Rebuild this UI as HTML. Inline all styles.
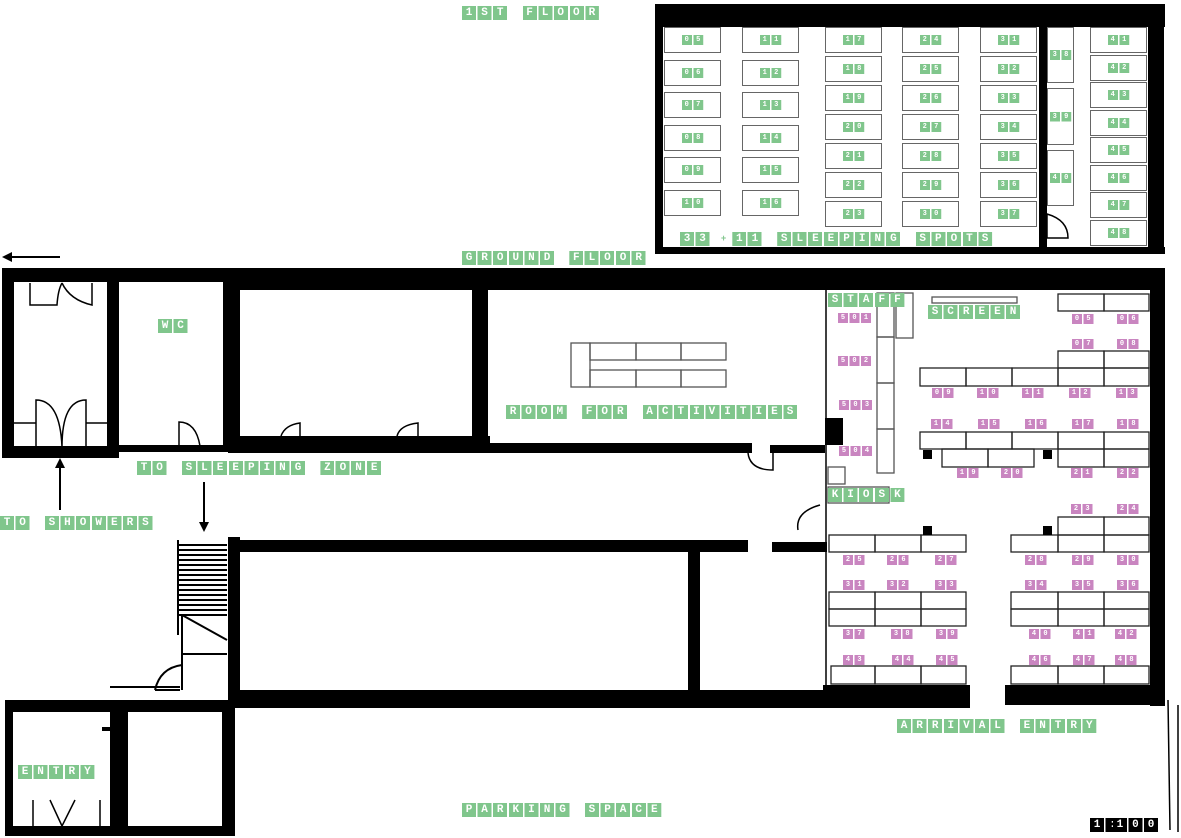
<!DOCTYPE html>
<html><head><meta charset="utf-8">
<style>
html,body{margin:0;padding:0;background:#fff}
#c{position:relative;width:1181px;height:838px;overflow:hidden;background:#fff}
svg{position:absolute;left:0;top:0}
.L{position:absolute;display:flex;gap:10px;white-space:nowrap}
.L span{font:bold 11px "Liberation Mono",monospace;color:#fff;letter-spacing:9px;padding-left:3.7px;height:14px;line-height:14px;background:repeating-linear-gradient(90deg,#80c68c 0 14px,transparent 14px 15.6px);display:block;clip-path:inset(0 5.3px 0 0)}
.K span{background:repeating-linear-gradient(90deg,#000 0 14px,transparent 14px 15.6px)}
.P,.G{position:absolute;font:bold 7px "Liberation Mono",monospace;color:#fff;letter-spacing:7.3px;padding-left:2.9px;height:10px;line-height:10px;white-space:nowrap;clip-path:inset(0 4.4px 0 0)}
.P{background:repeating-linear-gradient(90deg,#c985c0 0 10px,transparent 10px 11.5px)}
.G{background:repeating-linear-gradient(90deg,#80c68c 0 10px,transparent 10px 11.5px)}
.b{position:absolute;border:1.5px solid #666;box-sizing:border-box;display:flex;align-items:center;justify-content:center}
.b .G{position:static;margin-right:-4.4px}
</style></head><body><div id="c">
<svg width="1181" height="838" viewBox="0 0 1181 838">
<g fill="#000">
<rect x="655" y="4" width="510" height="23"/>
<rect x="655" y="4" width="8" height="250"/>
<rect x="655" y="247" width="510" height="7"/>
<rect x="1148" y="4" width="16" height="250"/>
<rect x="1039" y="20" width="8" height="232"/>
<rect x="2" y="268" width="1163" height="14"/>
<rect x="225" y="270" width="940" height="20"/>
<rect x="2" y="268" width="12" height="190"/>
<rect x="107" y="268" width="12" height="190"/>
<rect x="2" y="446" width="117" height="12"/>
<rect x="118" y="445" width="110" height="7"/>
<rect x="223" y="282" width="17" height="170"/>
<rect x="228" y="436" width="262" height="17"/>
<rect x="472" y="282" width="16" height="170"/>
<rect x="488" y="443" width="264" height="10"/>
<rect x="770" y="445" width="55" height="8"/>
<rect x="1150" y="268" width="15" height="438"/>
<rect x="825" y="418" width="18" height="27"/>
<rect x="823" y="685" width="147" height="20"/>
<rect x="1005" y="685" width="160" height="20"/>
<rect x="230" y="540" width="518" height="12"/>
<rect x="772" y="542" width="55" height="10"/>
<rect x="688" y="552" width="12" height="140"/>
<rect x="228" y="690" width="742" height="18"/>
<rect x="228" y="537" width="12" height="170"/>
<rect x="5" y="700" width="230" height="12"/>
<rect x="5" y="700" width="8" height="136"/>
<rect x="5" y="826" width="230" height="10"/>
<rect x="110" y="700" width="18" height="136"/>
<rect x="222" y="700" width="13" height="136"/>
<rect x="102" y="727" width="8" height="4"/>
</g>
<g stroke="#000" fill="none" stroke-width="1.5">
<line x1="826" y1="290" x2="826" y2="685"/>
<line x1="1168" y1="700" x2="1170" y2="830"/>
<line x1="1178" y1="705" x2="1178" y2="832"/>
<line x1="10" y1="257" x2="60" y2="257" stroke-width="2"/>
<line x1="60" y1="462" x2="60" y2="510" stroke-width="2"/>
<line x1="204" y1="482" x2="204" y2="528" stroke-width="2"/>
<g stroke-width="2">
<line x1="178" y1="545" x2="227" y2="545"/><line x1="178" y1="550" x2="227" y2="550"/><line x1="178" y1="555" x2="227" y2="555"/><line x1="178" y1="560" x2="227" y2="560"/><line x1="178" y1="565" x2="227" y2="565"/><line x1="178" y1="570" x2="227" y2="570"/><line x1="178" y1="575" x2="227" y2="575"/><line x1="178" y1="580" x2="227" y2="580"/><line x1="178" y1="585" x2="227" y2="585"/><line x1="178" y1="590" x2="227" y2="590"/><line x1="178" y1="595" x2="227" y2="595"/><line x1="178" y1="600" x2="227" y2="600"/><line x1="178" y1="605" x2="227" y2="605"/><line x1="178" y1="610" x2="227" y2="610"/><line x1="178" y1="615" x2="227" y2="615"/>
<line x1="178" y1="540" x2="178" y2="635"/>
<line x1="182" y1="615" x2="182" y2="690"/>
<line x1="182" y1="615" x2="227" y2="640"/>
<line x1="182" y1="654" x2="227" y2="654"/>
<path d="M182 665 Q160 668 155 690"/>
<line x1="110" y1="687" x2="180" y2="687"/>
<line x1="155" y1="690" x2="180" y2="690"/>
</g>
<path d="M30 283 V305 H57 Q58 290 62 283 M92 283 V305 Q70 300 62 283"/>
<path d="M36 447 V400 Q60 400 62 447 M86 447 V400 Q62 400 62 447 M14 423 H36 M86 423 H107"/>
<path d="M179 446 V422 Q196 422 200 446"/>
<path d="M281 436 Q285 425 300 423 V436 M397 436 Q400 425 418 423 V436"/>
<path d="M748 453 Q750 470 773 470 V453"/>
<path d="M798 530 Q795 512 820 505"/>
<path d="M1047 238 V214 Q1068 220 1068 238 Z"/>
<path d="M33 826 V800 M100 826 V800 M50 800 L62 826 L75 800"/>
</g>
<g fill="#000">
<path d="M2 257 L12 252 L12 262 Z"/>
<path d="M60 458 L55 468 L65 468 Z"/>
<path d="M204 532 L199 522 L209 522 Z"/>
</g>
<g fill="none" stroke="#555" stroke-width="1.3">
<rect x="571" y="343" width="19" height="44"/>
<rect x="590" y="343" width="46" height="17"/><rect x="636" y="343" width="45" height="17"/><rect x="681" y="343" width="45" height="17"/>
<rect x="590" y="370" width="46" height="17"/><rect x="636" y="370" width="45" height="17"/><rect x="681" y="370" width="45" height="17"/>
<rect x="877" y="293" width="17" height="44"/><rect x="877" y="337" width="17" height="46"/><rect x="877" y="383" width="17" height="46"/><rect x="877" y="429" width="17" height="44"/>
<rect x="896" y="293" width="17" height="45"/>
<rect x="932" y="297" width="85" height="6"/>
<rect x="828" y="467" width="17" height="17"/>
<rect x="828" y="487" width="61" height="16"/>
</g>
<g fill="none" stroke="#222" stroke-width="1.3">
<rect x="1058" y="294" width="46" height="17"/><rect x="1104" y="294" width="45" height="17"/>
<rect x="1058" y="351" width="46" height="17"/><rect x="1104" y="351" width="45" height="17"/>
<rect x="920" y="368" width="46" height="18"/><rect x="966" y="368" width="46" height="18"/><rect x="1012" y="368" width="46" height="18"/><rect x="1058" y="368" width="46" height="18"/><rect x="1104" y="368" width="45" height="18"/>
<rect x="920" y="432" width="46" height="17"/><rect x="966" y="432" width="46" height="17"/><rect x="1012" y="432" width="46" height="17"/><rect x="1058" y="432" width="46" height="17"/><rect x="1104" y="432" width="45" height="17"/>
<rect x="942" y="449" width="46" height="18"/><rect x="988" y="449" width="46" height="18"/><rect x="1058" y="449" width="46" height="18"/><rect x="1104" y="449" width="45" height="18"/>
<rect x="1058" y="517" width="46" height="18"/><rect x="1104" y="517" width="45" height="18"/>
<rect x="829" y="535" width="46" height="17"/><rect x="875" y="535" width="46" height="17"/><rect x="921" y="535" width="45" height="17"/>
<rect x="1011" y="535" width="47" height="17"/><rect x="1058" y="535" width="46" height="17"/><rect x="1104" y="535" width="45" height="17"/>
<rect x="829" y="592" width="46" height="17"/><rect x="875" y="592" width="46" height="17"/><rect x="921" y="592" width="45" height="17"/>
<rect x="1011" y="592" width="47" height="17"/><rect x="1058" y="592" width="46" height="17"/><rect x="1104" y="592" width="45" height="17"/>
<rect x="829" y="609" width="46" height="17"/><rect x="875" y="609" width="46" height="17"/><rect x="921" y="609" width="45" height="17"/>
<rect x="1011" y="609" width="47" height="17"/><rect x="1058" y="609" width="46" height="17"/><rect x="1104" y="609" width="45" height="17"/>
<rect x="831" y="666" width="44" height="18"/><rect x="875" y="666" width="46" height="18"/><rect x="921" y="666" width="45" height="18"/>
<rect x="1011" y="666" width="47" height="18"/><rect x="1058" y="666" width="46" height="18"/><rect x="1104" y="666" width="45" height="18"/>
</g>
<g fill="#000">
<rect x="923" y="450" width="9" height="9"/><rect x="1043" y="450" width="9" height="9"/>
<rect x="923" y="526" width="9" height="9"/><rect x="1043" y="526" width="9" height="9"/>
</g>
</svg>

<div class="b" style="left:664px;top:27px;width:57px;height:26px"><span class="G">05</span></div>
<div class="b" style="left:664px;top:60px;width:57px;height:26px"><span class="G">06</span></div>
<div class="b" style="left:664px;top:92px;width:57px;height:26px"><span class="G">07</span></div>
<div class="b" style="left:664px;top:125px;width:57px;height:26px"><span class="G">08</span></div>
<div class="b" style="left:664px;top:157px;width:57px;height:26px"><span class="G">09</span></div>
<div class="b" style="left:664px;top:190px;width:57px;height:26px"><span class="G">10</span></div>
<div class="b" style="left:742px;top:27px;width:57px;height:26px"><span class="G">11</span></div>
<div class="b" style="left:742px;top:60px;width:57px;height:26px"><span class="G">12</span></div>
<div class="b" style="left:742px;top:92px;width:57px;height:26px"><span class="G">13</span></div>
<div class="b" style="left:742px;top:125px;width:57px;height:26px"><span class="G">14</span></div>
<div class="b" style="left:742px;top:157px;width:57px;height:26px"><span class="G">15</span></div>
<div class="b" style="left:742px;top:190px;width:57px;height:26px"><span class="G">16</span></div>
<div class="b" style="left:825px;top:27px;width:57px;height:26px"><span class="G">17</span></div>
<div class="b" style="left:825px;top:56px;width:57px;height:26px"><span class="G">18</span></div>
<div class="b" style="left:825px;top:85px;width:57px;height:26px"><span class="G">19</span></div>
<div class="b" style="left:825px;top:114px;width:57px;height:26px"><span class="G">20</span></div>
<div class="b" style="left:825px;top:143px;width:57px;height:26px"><span class="G">21</span></div>
<div class="b" style="left:825px;top:172px;width:57px;height:26px"><span class="G">22</span></div>
<div class="b" style="left:825px;top:201px;width:57px;height:26px"><span class="G">23</span></div>
<div class="b" style="left:902px;top:27px;width:57px;height:26px"><span class="G">24</span></div>
<div class="b" style="left:902px;top:56px;width:57px;height:26px"><span class="G">25</span></div>
<div class="b" style="left:902px;top:85px;width:57px;height:26px"><span class="G">26</span></div>
<div class="b" style="left:902px;top:114px;width:57px;height:26px"><span class="G">27</span></div>
<div class="b" style="left:902px;top:143px;width:57px;height:26px"><span class="G">28</span></div>
<div class="b" style="left:902px;top:172px;width:57px;height:26px"><span class="G">29</span></div>
<div class="b" style="left:902px;top:201px;width:57px;height:26px"><span class="G">30</span></div>
<div class="b" style="left:980px;top:27px;width:57px;height:26px"><span class="G">31</span></div>
<div class="b" style="left:980px;top:56px;width:57px;height:26px"><span class="G">32</span></div>
<div class="b" style="left:980px;top:85px;width:57px;height:26px"><span class="G">33</span></div>
<div class="b" style="left:980px;top:114px;width:57px;height:26px"><span class="G">34</span></div>
<div class="b" style="left:980px;top:143px;width:57px;height:26px"><span class="G">35</span></div>
<div class="b" style="left:980px;top:172px;width:57px;height:26px"><span class="G">36</span></div>
<div class="b" style="left:980px;top:201px;width:57px;height:26px"><span class="G">37</span></div>
<div class="b" style="left:1047px;top:27px;width:27px;height:56px"><span class="G">38</span></div>
<div class="b" style="left:1047px;top:88px;width:27px;height:57px"><span class="G">39</span></div>
<div class="b" style="left:1047px;top:150px;width:27px;height:56px"><span class="G">40</span></div>
<div class="b" style="left:1090px;top:27px;width:57px;height:26px"><span class="G">41</span></div>
<div class="b" style="left:1090px;top:55px;width:57px;height:26px"><span class="G">42</span></div>
<div class="b" style="left:1090px;top:82px;width:57px;height:26px"><span class="G">43</span></div>
<div class="b" style="left:1090px;top:110px;width:57px;height:26px"><span class="G">44</span></div>
<div class="b" style="left:1090px;top:137px;width:57px;height:26px"><span class="G">45</span></div>
<div class="b" style="left:1090px;top:165px;width:57px;height:26px"><span class="G">46</span></div>
<div class="b" style="left:1090px;top:192px;width:57px;height:26px"><span class="G">47</span></div>
<div class="b" style="left:1090px;top:220px;width:57px;height:26px"><span class="G">48</span></div>

<div class="L" style="left:462px;top:6px"><span>1ST</span><span>FLOOR</span></div>
<div class="L" style="left:680px;top:232px"><span>33</span><span style="background:none;color:#80c68c;padding:0;letter-spacing:0;font-size:9px;margin:0 -4px;clip-path:none">+</span><span>11</span><span>SLEEPING</span><span>SPOTS</span></div>
<div class="L" style="left:462px;top:251px"><span>GROUND</span><span>FLOOR</span></div>
<div class="L" style="left:158px;top:319px"><span>WC</span></div>
<div class="L" style="left:506px;top:405px"><span>ROOM</span><span>FOR</span><span>ACTIVITIES</span></div>
<div class="L" style="left:137px;top:461px"><span>TO</span><span>SLEEPING</span><span>ZONE</span></div>
<div class="L" style="left:0px;top:516px"><span>TO</span><span>SHOWERS</span></div>
<div class="L" style="left:828px;top:293px"><span>STAFF</span></div>
<div class="L" style="left:928px;top:305px"><span>SCREEN</span></div>
<div class="L" style="left:828px;top:488px"><span>KIOSK</span></div>
<div class="L" style="left:18px;top:765px"><span>ENTRY</span></div>
<div class="L" style="left:462px;top:803px"><span>PARKING</span><span>SPACE</span></div>
<div class="L" style="left:897px;top:719px"><span>ARRIVAL</span><span>ENTRY</span></div>
<div class="L K" style="left:1090px;top:818px;gap:4px"><span>1:</span><span style="margin-left:-16px">100</span></div>

<div class="P" style="left:838px;top:313px">501</div>
<div class="P" style="left:838px;top:356px">502</div>
<div class="P" style="left:839px;top:400px">503</div>
<div class="P" style="left:839px;top:446px">504</div>
<div class="P" style="left:1072px;top:314px">05</div><div class="P" style="left:1117px;top:314px">06</div>
<div class="P" style="left:1072px;top:339px">07</div><div class="P" style="left:1117px;top:339px">08</div>
<div class="P" style="left:932px;top:388px">09</div><div class="P" style="left:977px;top:388px">10</div><div class="P" style="left:1022px;top:388px">11</div><div class="P" style="left:1069px;top:388px">12</div><div class="P" style="left:1116px;top:388px">13</div>
<div class="P" style="left:931px;top:419px">14</div><div class="P" style="left:978px;top:419px">15</div><div class="P" style="left:1025px;top:419px">16</div><div class="P" style="left:1072px;top:419px">17</div><div class="P" style="left:1117px;top:419px">18</div>
<div class="P" style="left:957px;top:468px">19</div><div class="P" style="left:1001px;top:468px">20</div><div class="P" style="left:1071px;top:468px">21</div><div class="P" style="left:1117px;top:468px">22</div>
<div class="P" style="left:1071px;top:504px">23</div><div class="P" style="left:1117px;top:504px">24</div>
<div class="P" style="left:843px;top:555px">25</div><div class="P" style="left:887px;top:555px">26</div><div class="P" style="left:935px;top:555px">27</div><div class="P" style="left:1025px;top:555px">28</div><div class="P" style="left:1072px;top:555px">29</div><div class="P" style="left:1117px;top:555px">30</div>
<div class="P" style="left:843px;top:580px">31</div><div class="P" style="left:887px;top:580px">32</div><div class="P" style="left:935px;top:580px">33</div><div class="P" style="left:1025px;top:580px">34</div><div class="P" style="left:1072px;top:580px">35</div><div class="P" style="left:1117px;top:580px">36</div>
<div class="P" style="left:843px;top:629px">37</div><div class="P" style="left:891px;top:629px">38</div><div class="P" style="left:936px;top:629px">39</div><div class="P" style="left:1029px;top:629px">40</div><div class="P" style="left:1073px;top:629px">41</div><div class="P" style="left:1115px;top:629px">42</div>
<div class="P" style="left:843px;top:655px">43</div><div class="P" style="left:892px;top:655px">44</div><div class="P" style="left:936px;top:655px">45</div><div class="P" style="left:1029px;top:655px">46</div><div class="P" style="left:1073px;top:655px">47</div><div class="P" style="left:1115px;top:655px">48</div>
</div></body></html>
